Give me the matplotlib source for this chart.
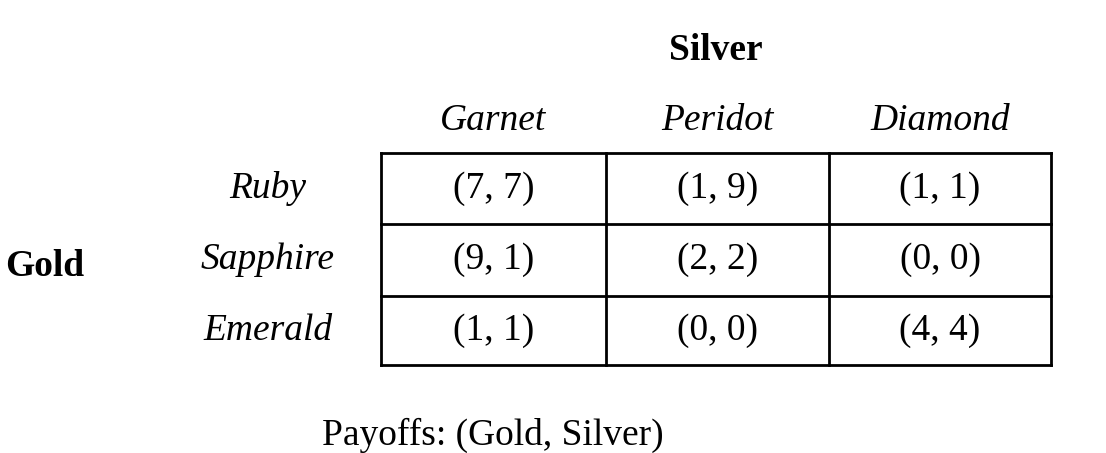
import matplotlib.pyplot as plt

players = ["Gold", "Silver"]
row_labels = ["Ruby", "Sapphire", "Emerald"]
col_labels = ["Garnet", "Peridot", "Diamond"]
payoffs = [
    [(7, 7), (1, 9), (1, 1)],
    [(9, 1), (2, 2), (0, 0)],
    [(1, 1), (0, 0), (4, 4)],
]
caption = "Payoffs: (Gold, Silver)"

plt.rcParams["font.family"] = "Liberation Serif"

fig = plt.figure(figsize=(11.06, 4.53), dpi=100)
ax = fig.add_axes([0, 0, 1, 1])
ax.set_xlim(0, 1106)
ax.set_ylim(453, 0)
ax.axis("off")

# grid geometry in pixels
xs = [381, 606, 829, 1051]
ys = [153, 224, 296, 365]
fs = 27

for x in xs:
    ax.plot([x, x], [ys[0], ys[-1]], color="black", lw=2.0)
for y in ys:
    ax.plot([xs[0], xs[-1]], [y, y], color="black", lw=2.0)

for j, name in enumerate(col_labels):
    ax.text((xs[j] + xs[j + 1]) / 2, 121, name, style="italic", fontsize=fs,
            ha="center", va="center")
for i, name in enumerate(row_labels):
    yc = (ys[i] + ys[i + 1]) / 2
    ax.text(268, yc, name, style="italic", fontsize=fs, ha="center", va="center")
    for j, (a, b) in enumerate(payoffs[i]):
        ax.text((xs[j] + xs[j + 1]) / 2, yc, f"({a}, {b})", fontsize=fs,
                ha="center", va="center")

ax.text(716, 50, players[1], fontsize=fs, weight="bold", ha="center", va="center")
ax.text(45, 267, players[0], fontsize=fs, weight="bold", ha="center", va="center")
ax.text(493, 435, caption, fontsize=fs, ha="center", va="center")

fig.savefig("out.png", dpi=100)
